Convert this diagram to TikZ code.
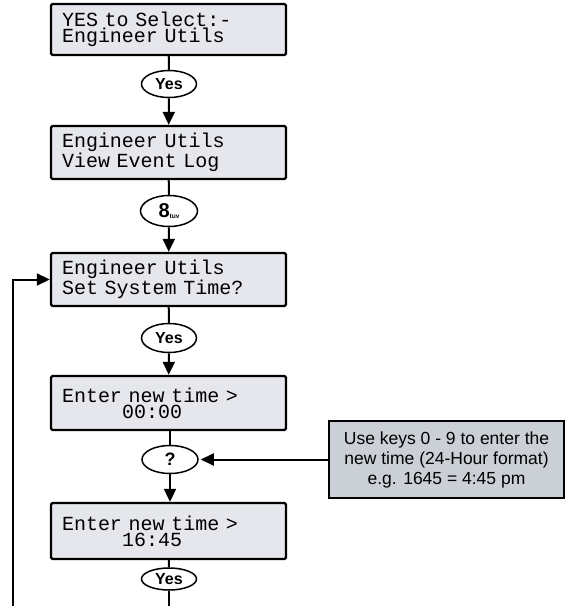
\documentclass[tikz,border=0pt]{standalone}
\usepackage{fontspec}
\setmainfont{Liberation Sans}
\newfontfamily\lcdfont{Liberation Mono}
\usepackage{tikz}
\usetikzlibrary{arrows.meta, positioning, shapes.geometric}
\definecolor{lcdfill}{RGB}{229,231,236}
\definecolor{notefill}{RGB}{203,207,214}

\begin{document}
\begin{tikzpicture}[x=1pt, y=-1pt,
    lcd/.style={draw, line width=2.4pt, rounded corners=1.5pt, fill=lcdfill, minimum width=235pt, minimum height=53pt, text width=213pt, inner xsep=11pt, align=left, font=\lcdfont\fontsize{20}{16}\selectfont},
    key/.style={draw, ellipse, line width=1.5pt, fill=white, minimum width=55pt, minimum height=27pt, inner sep=0pt, font=\fontsize{16}{16}\selectfont\bfseries},
    note/.style={draw, line width=2.4pt, fill=notefill, minimum width=235pt, minimum height=77pt, align=center, font=\fontsize{17.5}{20}\selectfont},
    conn/.style={line width=2pt},
    flow/.style={conn, -{Triangle[length=13pt, width=12pt]}}]
    \useasboundingbox (0,0) rectangle (566,606);

    % Display screens
    \node[lcd, minimum height=51pt] (lcd1) at (168.5,29.5) {YES to Select:-\\Engineer Utils};
    \node[lcd] (lcd2) at (168.5,152.5) {Engineer Utils\\View Event Log};
    \node[lcd] (lcd3) at (168.5,279.5) {Engineer Utils\\Set System Time?};
    \node[lcd, minimum height=54pt] (lcd4) at (168.5,403) {Enter new time >\\\phantom{Enter}00:00};
    \node[lcd, minimum height=56pt] (lcd5) at (168.5,531) {Enter new time >\\\phantom{Enter}16:45};

    % Keys
    \node[key] (yes1) at (169,84) {Yes};
    \node[key, minimum width=57pt, minimum height=31pt] (key8) at (169,211) {{\fontsize{20}{20}\selectfont 8}\raisebox{-1.5pt}{\fontsize{6.5}{6.5}\selectfont tuv}};
    \node[key, minimum height=29pt] (yes2) at (169,338) {Yes};
    \node[key, minimum width=56pt, minimum height=28pt, font=\fontsize{18}{18}\selectfont\bfseries] (query) at (170,459.5) {?};
    \node[key, minimum height=22pt] (yes3) at (169,579) {Yes};

    % Hint
    \node[note] (hint) at (446.5,459.5) {Use keys 0 - 9 to enter the\\new time (24-Hour format)\\e.g. 1645 = 4:45 pm};

    % Flow
    \draw[conn] (lcd1) -- (yes1);
    \draw[flow] (yes1) -- (lcd2);
    \draw[conn] (lcd2) -- (key8);
    \draw[flow] (key8) -- (lcd3);
    \draw[conn] (lcd3) -- (yes2);
    \draw[flow] (yes2) -- (lcd4);
    \draw[conn] (lcd4.south -| query) -- (query);
    \draw[flow] (query) -- (lcd5.north -| query);
    \draw[conn] (lcd5) -- (yes3);
    \draw[flow, shorten >=2pt] (hint) -- (query);

    % Loop back
    \coordinate (exit) at (169,606);
    \coordinate (loopfoot) at (13,606);
    \draw[conn] (yes3) -- (exit);
    \draw[flow] (loopfoot) |- (lcd3.west);
\end{tikzpicture}
\end{document}
